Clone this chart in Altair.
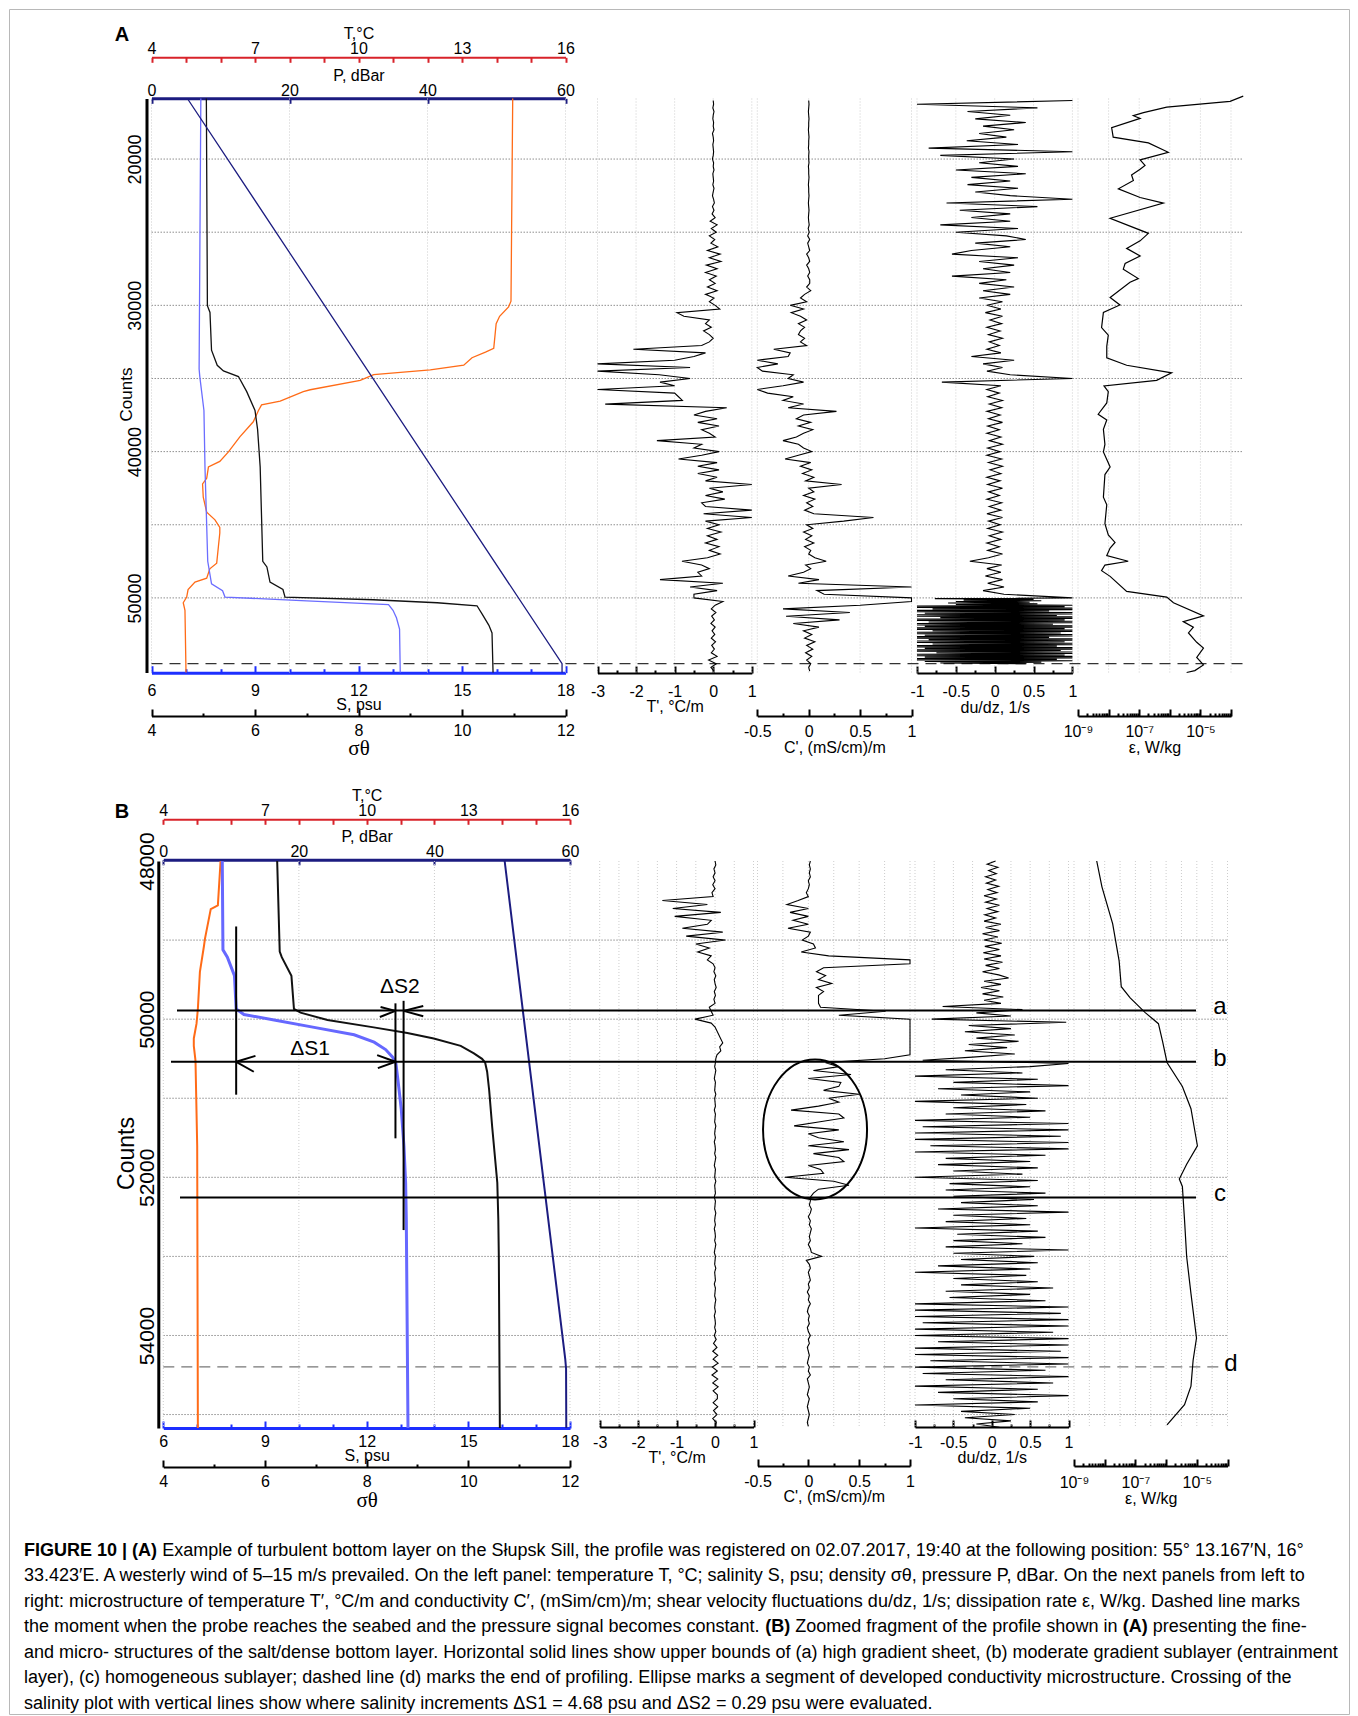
import altair as alt
import pandas as pd

# ------------------------------------------------------------------ canvas
W, H = 1340, 1705
OX, OY = 9, 9
PAD = {"left": OX, "top": OY, "right": 1358 - W - OX, "bottom": 1716 - H - OY}
FONT = "Liberation Sans"
RED, NAVY, BLUE = "#d8232a", "#1c1c80", "#1d2fff"
ORANGE, LBLUE, LBLUE_B = "#ff6b17", "#6b6dff", "#6668ff"

# ================================================================== DATA  panel A
# main profile: counts / value
TA_c = [15860, 29715, 30102, 30746, 31261, 32937, 33194, 33581, 34096, 34405, 34740, 35127, 35771, 35900,
        36544, 36802, 37189, 37962, 38992, 40023, 40667, 41054, 41827, 42213, 43115, 44146, 44662, 45177,
        45564, 46466, 47625, 48012, 48656, 48914, 49429, 49944, 50331, 50847, 55100]
TA_v = [14.47, 14.42, 14.35, 14.09, 13.99, 13.92, 13.68, 13.29, 13.05, 12.08, 10.44, 10.05, 8.6, 8.4,
        7.73, 7.19, 7.10, 6.95, 6.56, 6.23, 5.98, 5.65, 5.60, 5.48, 5.5, 5.6, 5.84, 5.98,
        5.98, 5.94, 5.89, 5.69, 5.60, 5.26, 5.06, 5.02, 4.92, 4.97, 5.0]
SA_c = [15860, 34354, 34869, 37189, 41054, 47496, 49043, 49506, 49944, 50202, 50460, 50847, 51362, 52135, 55100]
SA_v = [7.43, 7.38, 7.40, 7.52, 7.55, 7.63, 7.74, 8.06, 8.13, 10.5, 12.87, 13.0, 13.1, 13.19, 13.21]
GA_c = [15860, 30024, 30488, 33065, 34096, 34483, 34869, 35900, 37189, 38477, 41054, 47496, 47883, 48914,
        49429, 49944, 50125, 50331, 50537, 51104, 51877, 52393, 55100]
GA_v = [5.06, 5.08, 5.13, 5.16, 5.27, 5.39, 5.68, 5.84, 6.0, 6.05, 6.10, 6.15, 6.23, 6.29,
        6.54, 6.58, 8.29, 9.52, 10.29, 10.39, 10.52, 10.58, 10.6]
PA_c = [15860, 54500, 55100]
PA_v = [5.2, 59.5, 59.5]

# microstructure, sampled every 250 counts from 16000
TPA_START, TPA_STEP = 16000, 250
TPA = [0, 0.01, -0.01, 0.02, 0, -0.01, 0.01, 0, 0.02, -0.02, 0, 0.01, -0.01, 0, 0.01, 0, -0.02, 0.01, 0, 0.02,
       -0.01, 0, 0.01, -0.01, 0.02, 0, -0.02, 0.01, 0.03, -0.02, 0.02, -0.03,
       0.05, -0.08, 0.1, -0.05, 0.08, -0.1, 0.04, -0.06, 0.12, -0.15, 0.18, -0.1, 0.2, -0.18, 0.1, -0.2, 0.08, -0.1,
       0.05, -0.15, 0.1, -0.2, 0.02, -0.1, 0.05, 0.17, -0.94, -0.76, -0.1, -0.2, -0.05, -0.25, -0.1, 0.0, -0.1, -0.3, -2.07, -0.2,
       -0.5, -1.0, -3.0, -0.6, -3.0, -1.4, -0.6, -1.38, -1.0, -3.0,
       -1.0, -0.9, -0.8, -2.8, 0.35, -0.2, -0.5, 0.1, -0.4, 0.15,
       -0.3, -0.1, 0.05, -1.46, -0.3, -0.5, 0.15, -0.3, -0.9, 0.1,
       -0.4, 0.15, -0.4, 0.1, -0.2, 1.0, -0.1, 0.25, -0.2, 0.3,
       -0.3, -0.2, 1.0, -0.25, 1.0, -0.2, 0.15, -0.15, 0.2, -0.15,
       0.1, -0.2, 0.15, -0.1, 0.18, -0.15, -0.81, -0.3, -0.1, -0.4,
       -0.3, -1.38, 0.25, -0.6, 0.1, -0.5, -0.5, 0.25, 0.05, -0.05,
       0.07, -0.04, 0.03, -0.06, 0.05, -0.03, 0.04, -0.05, 0.06, -0.04,
       0.03, -0.05, 0.1, -0.12, 0.08, -0.06, 0.02]
CPA = [0, 0.003, 0, -0.003, 0, 0.003, 0, 0, -0.003, 0, 0.003, 0, 0, -0.003, 0.003, 0, 0, 0.003, -0.003, 0,
       0, 0.003, 0, -0.003, 0, 0, 0.003, 0, -0.003, 0, 0.003, 0, -0.003, 0, 0.005, -0.005, 0.005,
       -0.01, 0.01, -0.01, 0.0, 0.01, -0.02, 0.0, 0.01, -0.02, 0.0, 0.01, -0.01, 0.01,
       0.01, -0.02, 0.02, -0.04, -0.08, -0.02, -0.18, -0.05, -0.17, -0.08,
       -0.02, -0.1, -0.04, -0.08, -0.1, -0.04, -0.08, -0.02, -0.34, -0.18,
       -0.2, -0.5, -0.3, -0.5, -0.45, -0.15, -0.2, -0.05, -0.25, -0.5,
       -0.4, -0.15, -0.25, -0.05, -0.2, 0.27, -0.05, -0.12, 0.02, -0.1,
       0.04, -0.05, -0.12, -0.25, -0.1, -0.05, 0.03, -0.1, -0.23, 0.02,
       -0.08, 0.03, -0.06, 0.05, -0.03, 0.32, 0.0, 0.05, -0.05, 0.06,
       -0.02, 0.04, -0.04, 0.05, 0.63, 0.34, -0.02, 0.04, -0.05, 0.03,
       -0.03, 0.05, -0.04, 0.02, 0.0, 0.06, 0.17, -0.03, 0.02, -0.05,
       -0.2, 0.1, -0.1, 1.0, 0.08, 0.15, 1.0, 1.0, 0.5, -0.25,
       0.4, -0.22, 0.3, -0.15, 0.1, -0.05, 0.03, -0.04, 0.06, -0.02,
       0.04, -0.03, 0.03, -0.02, 0.02, 0.0, 0.01]
# du/dz: every 250 counts from 16000, then every 50 counts from 50000
DUA_HI = [1.0, -1.0, 0.55, -0.35, 0.2, -0.25, 0.4, -0.15, 0.25, -0.2, 0.15, -0.36,
          0.3, -0.85, 1.0, -0.7, 0.25, -0.2, 0.3, -0.5, 0.4, -0.3, 0.2, -0.35,
          0.3, -0.25, 0.2, 1.0, -0.62, 0.55, -0.45, 0.2,
          -0.3, 0.2, -0.7, 0.3, -0.5, 0.15, 0.4, -0.25, 0.2, -0.3, -0.55, 0.3, -0.2, 0.25, -0.15, 0.2,
          -0.55, 0.15, -0.2, 0.25, -0.15, 0.2, -0.2, 0.1,
          -0.1, 0.08, -0.12, 0.1, -0.06, 0.09, -0.1, 0.07, -0.08, 0.1, -0.07, 0.06, -0.1, 0.08, -0.3, 0.25,
          -0.15, 0.1, -0.1, 0.2, 1.0, -0.68,
          0.08, -0.1, 0.06, -0.09, 0.1, -0.07, 0.09, -0.1, 0.07, -0.08,
          0.1, -0.09, 0.06, -0.1, 0.08, -0.07, 0.1, -0.09, 0.07, -0.1,
          0.09, -0.08, 0.1, -0.06, 0.08, -0.1, 0.07, -0.09, 0.1, -0.08,
          0.06, -0.1, 0.09, -0.07, 0.08, -0.1, 0.1, -0.08, 0.07, -0.09,
          0.1, -0.07, 0.08, -0.1, 0.06, -0.09, 0.1, -0.08, -0.32, 0.09,
          -0.1, 0.08, -0.12, 0.1, -0.09, 0.12, -0.15, 0.12]
DUA_LO_START, DUA_LO_STEP = 50000, 50
DUA_LO = [1.0, -0.77, 0.5, -0.4, 0.6, -0.5, 0.45, -0.6, 0.55, -0.5,
          1.0, -1.0, 0.9, -1.0, 1.0, -0.8, 1.0, -1.0, 0.7, -1.0,
          1.0, -0.9, 1.0, -1.0, 0.8, -1.0, 1.0, -0.7, 1.0, -1.0,
          0.9, -1.0, 1.0, -0.85, 1.0, -1.0, 0.75, -1.0, 1.0, -0.9,
          1.0, -1.0, 0.9, -1.0, 1.0, -0.8, 1.0, -1.0, 0.85, -1.0,
          1.0, -0.9, 1.0, -1.0, 0.7, -1.0, 1.0, -0.85, 1.0, -1.0,
          0.9, -1.0, 1.0, -0.8, 1.0, -1.0, 0.8, -1.0, 1.0, -0.9,
          1.0, -1.0, 0.85, -1.0, 1.0, -0.75, 1.0, -1.0, 0.9, -1.0,
          1.0, -0.9, 1.0, -1.0, 0.8, -1.0, 1.0, -0.9, 0.6, -0.7,
          0.4]
# dissipation rate: counts / log10(eps)
EA_c = [15700, 16057, 16444, 16830, 17036, 17217, 17861, 18505, 18892, 19536,
        20052, 20438, 20696, 21082, 21469, 22036, 22629, 23015, 24046, 25077,
        25592, 26107, 26623, 27138, 27525, 28169, 28427, 29458, 29973, 30488,
        31519, 32034, 32807, 33581, 34096, 34611, 35127, 35513, 35900, 36673,
        37446, 37833, 38477, 39508, 40023, 41054, 41569, 43115, 43631, 44919,
        45692, 46208, 46594, 47110, 47496, 47754, 48140, 48527, 49558, 49944,
        50331, 51233, 51620, 52006, 52393, 53037, 53424, 54068, 54584, 54970, 55100]
EA_e = [-3.60, -4.03, -6.10, -6.86, -7.19, -6.97, -7.90, -7.85, -6.70, -6.05,
        -6.97, -6.81, -6.97, -7.25, -7.19, -7.68, -6.97, -6.21, -7.95, -6.70,
        -6.97, -7.41, -6.97, -7.46, -7.52, -7.03, -7.30, -7.95, -7.63, -8.17,
        -8.23, -8.01, -8.06, -8.06, -7.41, -5.94, -6.43, -8.15, -8.01, -8.06,
        -8.34, -8.06, -8.17, -8.12, -8.17, -7.95, -8.12, -8.17, -8.06, -8.12,
        -8.01, -7.79, -7.95, -8.06, -7.36, -8.12, -8.23, -7.95, -7.41, -6.10,
        -5.88, -4.90, -5.56, -5.23, -5.39, -5.12, -4.90, -5.12, -4.90, -5.18, -5.45]
DASH_A = 54500

# ================================================================== DATA  panel B
TB_c = [48000, 48561, 48608, 48982, 49075, 49403, 49870, 50057, 50244, 50338, 50525, 51601, 55170]
TB_v = [5.69, 5.61, 5.40, 5.23, 5.20, 5.08, 5.02, 4.98, 4.90, 4.90, 4.95, 5.0, 5.02]
SB_c = [48000, 49122, 49216, 49450, 49870, 49941, 50011, 50104, 50198, 50291, 50385, 50478, 50548,
        50758, 51133, 51601, 52068, 52536, 55170]
SB_v = [7.74, 7.76, 7.89, 8.10, 8.15, 8.38, 9.27, 10.45, 11.63, 12.22, 12.56, 12.76, 12.86,
        12.92, 13.02, 13.10, 13.15, 13.17, 13.22]
GB_c = [48000, 49146, 49216, 49450, 49870, 49917, 50011, 50104, 50174, 50244, 50338, 50432, 50502,
        50548, 50665, 50899, 51367, 52068, 52536, 53003, 55170]
GB_v = [6.24, 6.29, 6.33, 6.52, 6.57, 6.70, 7.23, 8.14, 8.80, 9.32, 9.85, 10.11, 10.27,
        10.33, 10.37, 10.41, 10.47, 10.57, 10.59, 10.60, 10.62]
PB_c = [48000, 54300, 54420, 55170]
PB_v = [50.36, 59.3, 59.42, 59.45]

TPB_START, TPB_STEP = 48000, 50
TPB = [0.0, 0.02, -0.03, 0.0, -0.05, 0.0, -0.06, 0.0, -0.08, -0.05,
       -1.37, -0.2, -1.1, 0.15, -1.05, -0.1, -0.2, -0.85, 0.2, -0.75,
       0.27, -0.5, -0.15, -0.45, -0.1, -0.2, -0.05,
       0.0, -0.03, 0.02, -0.02, 0.0, 0.03, -0.02, 0.01, -0.03, 0.0, -0.15,
       -0.1, -0.05, -0.52, -0.1, 0.0, 0.05, 0.1, 0.15, 0.2, 0.12, 0.15, 0.05, 0.02,
       0.01, -0.01, 0.02, 0.0, -0.02, 0.01, 0.0, -0.01, 0.02, -0.01,
       0.0, 0.01, -0.02, 0.01, 0.0, -0.01, 0.02, 0.0, -0.01, 0.01,
       -0.02, 0.0, 0.01, -0.01, 0.02, 0.0, -0.02, 0.01, 0.0, -0.01,
       0.02, -0.01, 0.0, 0.01, -0.02, 0.01, 0.0, -0.01, 0.02, 0.0,
       -0.01, 0.01, -0.02, 0.0, 0.01, -0.01, 0.02, 0.0, -0.02, 0.01,
       0.0, -0.01, 0.02, -0.01, 0.0, 0.01, -0.02, 0.01, 0.0, -0.01,
       0.02, 0.0, -0.01, 0.01, -0.02, 0.0, 0.01, -0.01, 0.02, -0.02,
       0.03, -0.04, 0.05, -0.06, 0.07, -0.05, 0.08, -0.07, 0.06, -0.08,
       0.07, -0.06, 0.08, -0.05, 0.06,
       0.06, -0.05, 0.07, -0.04, 0.05, -0.06, 0.03, 0.0]
CPB = [0.02, 0.01, 0.02, 0.01, 0.02, 0.0, 0.01, 0.0, -0.02, 0.0,
       -0.1, -0.21, 0.0, -0.18, 0.0, -0.15, 0.0, -0.2, 0.02, 0.0,
       -0.06, 0.05, 0.07, -0.07, 0.2, 1.0, 1.0, 0.15, 0.08, 0.17,
       0.1, 0.23, 0.08, 0.15, 0.1, 0.1, 0.1, 0.12, 0.76, 0.3, 1.0,
       1.0, 1.0, 1.0, 1.0, 1.0, 1.0, 1.0, 1.0, 1.0, 0.75,
       0.17, 0.3, 0.05, 0.42, 0.0, 0.32, 0.3, 0.15, 0.5, 0.2,
       0.3, 0.1, -0.17, 0.3, 0.35, 0.1, -0.14, 0.3, 0.0, 0.1,
       0.35, 0.0, 0.4, 0.05, 0.3, 0.35, 0.0, 0.12, 0.15, -0.23,
       0.25, 0.4, 0.1, 0.05, 0.02,
       0.02, 0.01, 0.03, 0.02, 0.0, 0.02, 0.01, 0.03, 0.02, 0.01,
       0.02, 0.0, 0.02, 0.03, 0.13, -0.02, 0.01, 0.02, 0.0, 0.01,
       0.02, 0.0, 0.01, -0.01, 0.01, 0.0, 0.02, 0.0, -0.01, 0.01,
       0.0, 0.01, -0.01, 0.0, 0.02, 0.0, 0.01, -0.01, 0.0, 0.01,
       0.0, -0.01, 0.01, 0.0, 0.02, -0.01, 0.0, 0.01, 0.0, -0.01,
       0.01, 0.0, -0.01, 0.0, 0.01, 0.0, -0.01, 0.0]
DUB_START, DUB_STEP = 48000, 40
DUB = [0.05, -0.06, 0.08, -0.04, 0.06, -0.08, 0.05, -0.07, 0.09, -0.05,
       0.07, -0.1, 0.06, -0.08, 0.1, -0.06, 0.08, -0.09, 0.05, -0.1,
       0.12, -0.08, 0.1, -0.12, 0.08, -0.1, 0.13, -0.09, 0.1, -0.11,
       0.12, -0.1, 0.14, -0.08, 0.1, -0.12, 0.09, 0.22, -0.1, 0.12,
       -0.14, 0.1, -0.12, 0.15, -0.1, 0.12,
       -0.64, 0.4, -0.2, 0.25, -0.78, 0.97, -0.3, 0.25, -0.35, 0.3,
       -0.2, 0.35, -0.3, 0.2, -0.35, 0.3, -0.25, -0.9, 1.0,
       0.5, -0.6, 0.4, -1.0, 0.6, -0.5, 1.0, -0.7, 0.5, -0.4,
       0.6, -1.0, 0.45, -0.5, 0.7, -0.6, 0.5, -1.0, 1.0, -0.9,
       1.0, -1.0, 0.9, -1.0, 1.0, -0.8, 1.0, -1.0, 0.7, -0.6,
       0.5, -0.7, 0.6, -0.5, 0.4, -1.0, 0.6, -0.55, 0.5, -0.6,
       0.7, -0.5, 0.55, -0.4, 0.6, -0.7, 1.0, -0.5, 0.45, -0.6,
       0.5, -1.0, 0.6, -0.45, 0.7, -0.5, 0.4, -0.6, 1.0, -0.5,
       0.55, -0.4, 0.6, -0.7, 0.5, -1.0, 0.45, -0.5, 0.6, -0.4,
       0.8, -0.6, 0.5, -0.55, 0.7, -1.0, 1.0, -1.0, 0.9, -1.0,
       1.0, -0.9, 1.0, -1.0, 0.8, -1.0, 1.0, -0.7, 1.0, -1.0,
       0.9, -1.0, 1.0, -0.8, 1.0, -1.0, 0.7, -0.9, 1.0, -0.6,
       0.8, -1.0, 0.6, -0.7, 1.0, -0.5, 0.6, -1.0, 0.5, -0.4,
       0.3, -0.35, 0.25, -0.2, 0.1]
EB_c = [48000, 48327, 48795, 49263, 49590, 49730, 49917, 50057, 50291, 50548, 50852, 51133,
        51601, 51834, 52021, 52115, 52536, 53004, 53471, 54032, 54313, 54640, 54874, 55131]
EB_e = [-8.26, -8.09, -7.74, -7.53, -7.46, -7.17, -6.68, -6.25, -6.11, -5.97, -5.47, -5.19,
        -4.98, -5.33, -5.57, -5.47, -5.40, -5.33, -5.19, -5.01, -5.12, -5.19, -5.40, -5.97]
DASH_B = 54397
LINES_ABC = [49890, 50539, 52255]           # upper bounds a, b, c (counts)
DS_VERT = [(8.15, 48828, 50955), (12.85, 49800, 51507), (13.09, 49768, 52667)]   # S, count1, count2
DS_ARMS = [(8.15, 50539, 8.72, 50464), (8.15, 50539, 8.67, 50665),
           (12.85, 50539, 12.31, 50455), (12.85, 50539, 12.33, 50619),
           (12.85, 49895, 12.41, 49847), (12.85, 49895, 12.39, 49973),
           (13.09, 49895, 13.67, 49833), (13.09, 49895, 13.67, 49964)]
DS_TEXT = [("ΔS1", 10.33, 50380), ("ΔS2", 12.98, 49593)]
ELLIPSE = (0.066, 51395)   # C', counts centre

# ================================================================== helpers
DOM_T, DOM_P, DOM_S, DOM_G = (4, 16), (0, 60), (6, 18), (4, 12)
DOM_TP, DOM_CP, DOM_DU, DOM_E = (-3, 1), (-0.5, 1), (-1, 1), (1e-9, 1e-4)
PLAIN = "replace(format(datum.value, ''), '\u2212', '-')"
layers = []


def xs(dom, a, b, typ="linear"):
    if typ == "log":
        return alt.Scale(type="log", domain=list(dom), range=[a - OX, b - OX], nice=False)
    return alt.Scale(domain=list(dom), range=[a - OX, b - OX], nice=False, zero=False)


def ys(dom, a, b):
    return alt.Scale(domain=list(dom), range=[a - OY, b - OY], nice=False, zero=False)


def AX(orient, pos, **kw):
    off = {"bottom": pos - (OY + H), "top": OY - pos, "left": OX - pos}[orient]
    d = dict(orient=orient, offset=off, grid=False, labelFlush=False, labelOverlap=False)
    d.update(kw)
    return alt.Axis(**d)


def ghost(ch, dom, scale, axis):
    df = pd.DataFrame({"v": list(dom)})
    enc = alt.X("v:Q", scale=scale, axis=axis) if ch == "x" else alt.Y("v:Q", scale=scale, axis=axis)
    return alt.Chart(df).mark_point(opacity=0).encode(**{ch: enc})


def x_axis(dom, scale, pos, values, title, color="black", dw=2, lab_orient="bottom", lpad=8,
           title_y=28, title_font=FONT, title_size=16, major=None, minor=None, tick_orient="top",
           major_len=7, minor_len=3, label_expr=PLAIN, lsize=16):
    kw = dict(values=values, ticks=False, tickSize=0, domainColor=color, domainWidth=dw,
              labelPadding=lpad, labelFontSize=lsize, title=title, titleFont=title_font,
              titleFontSize=title_size, titleBaseline="middle", titleY=title_y, labelExpr=label_expr)
    layers.append(ghost("x", dom, scale, AX(lab_orient, pos, **kw)))
    for vals, ln in ((major, major_len), (minor, minor_len)):
        if vals:
            layers.append(ghost("x", dom, scale, AX(tick_orient, pos, values=vals, labels=False, domain=False,
                                                    ticks=True, tickSize=ln, tickColor=color, tickWidth=2,
                                                    title=None)))


def curve(c, v, sx_, sy_, color, width):
    df = pd.DataFrame({"c": c, "v": v})
    return alt.Chart(df).mark_line(color=color, strokeWidth=width).encode(
        x=alt.X("v:Q", scale=sx_, axis=None), y=alt.Y("c:Q", scale=sy_, axis=None), order="c:Q")


def vgrid(vals, sx_, ydom, sy_, color="#cdcdcd"):
    df = pd.DataFrame({"g": vals, "y1": [ydom[0]] * len(vals), "y2": [ydom[1]] * len(vals)})
    return alt.Chart(df).mark_rule(color=color, strokeDash=[1, 2], strokeWidth=1).encode(
        x=alt.X("g:Q", scale=sx_, axis=None), y=alt.Y("y1:Q", scale=sy_, axis=None), y2="y2:Q")


def hline(counts, sy_, x1, x2, color, dash=None, width=1.0):
    df = pd.DataFrame({"c": counts})
    mk = dict(color=color, strokeWidth=width)
    if dash:
        mk["strokeDash"] = dash
    return alt.Chart(df).mark_rule(**mk).encode(
        y=alt.Y("c:Q", scale=sy_, axis=None), x=alt.value(x1 - OX), x2=alt.value(x2 - OX))


def label(txt, x, y, size=16, weight="normal", font=FONT, align="left", baseline="middle"):
    return alt.Chart(pd.DataFrame({"t": [txt]})).mark_text(
        fontSize=size, fontWeight=weight, font=font, align=align, baseline=baseline, color="black"
    ).encode(text="t:N", x=alt.value(x - OX), y=alt.value(y - OY))


def grid_counts(start, step, n):
    return [start + step * i for i in range(n)]


# ================================================================== panel builder
def build(G, D):
    yS = ys(D["ydom"], *G["y"])
    sT, sP = xs(DOM_T, *G["main"]), xs(DOM_P, *G["main"])
    sS, sG = xs(DOM_S, *G["main"]), xs(DOM_G, *G["main"])
    sTp, sCp = xs(DOM_TP, *G["tp"]), xs(DOM_CP, *G["cp"])
    sDu, sE = xs(DOM_DU, *G["du"]), xs(DOM_E, *G["eps"], typ="log")

    # grids
    layers.append(hline(D["hgrid"], yS, G["main"][0], G["grid_end"], "#8f8f8f", dash=[1.5, 1.5]))
    layers.append(vgrid(D["vg_main"], sP, D["ydom"], yS))
    layers.append(vgrid(D["vg_tp"], sTp, D["ydom"], yS))
    layers.append(vgrid(D["vg_cp"], sCp, D["ydom"], yS))
    layers.append(vgrid(D["vg_du"], sDu, D["ydom"], yS))
    layers.append(vgrid(D["vg_eps"], sE, D["ydom"], yS))
    layers.append(hline([D["dash"]], yS, G["main"][0], G["dash_end"], G["dash_col"], dash=[11, 7], width=1.3))

    # main profiles
    w = G["lw"]
    layers.append(curve(D["T"][0], D["T"][1], sT, yS, ORANGE, w))
    layers.append(curve(D["S"][0], D["S"][1], sS, yS, G["s_col"], G["s_w"]))
    layers.append(curve(D["G"][0], D["G"][1], sG, yS, "#111111", w))
    layers.append(curve(D["P"][0], D["P"][1], sP, yS, NAVY, w))
    # microstructure
    layers.append(curve(D["Tp"][0], D["Tp"][1], sTp, yS, "black", 1.1))
    layers.append(curve(D["Cp"][0], D["Cp"][1], sCp, yS, "black", 1.1))
    layers.append(curve(D["Du"][0], D["Du"][1], sDu, yS, "black", 1.1))
    layers.append(curve(D["E"][0], [10 ** e for e in D["E"][1]], sE, yS, "black", 1.2))

    # axes
    x_axis(DOM_T, sT, G["t_top"], [4, 7, 10, 13, 16], "T,°C", RED, 2, "top", 1, -24,
           major=list(range(4, 17)), tick_orient="bottom", major_len=5)
    x_axis(DOM_P, sP, G["p_top"], [0, 20, 40, 60], "P, dBar", NAVY, 3, "top", 0, -23,
           major=[0, 20, 40, 60], tick_orient="bottom", major_len=5)
    x_axis(DOM_S, sS, G["s_bot"], [6, 9, 12, 15, 18], "S, psu", BLUE, 3, "bottom", G["s_pad"], G["s_ty"],
           major=[6, 9, 12, 15, 18], minor=[7, 8, 10, 11, 13, 14, 16, 17], major_len=7, minor_len=4)
    x_axis(DOM_G, sG, G["g_bot"], [4, 6, 8, 10, 12], "σθ", "black", 2, "bottom", G["g_pad"], G["g_ty"],
           title_font="Liberation Serif", title_size=21, major=[4, 6, 8, 10, 12], minor=[5, 7, 9, 11])
    x_axis(DOM_TP, sTp, G["tp_bot"], [-3, -2, -1, 0, 1], "T', °C/m", "black", 2, "bottom", G["tp_pad"],
           G["tp_ty"], major=[-3, -2, -1, 0, 1], minor=[-2.5, -1.5, -0.5, 0.5])
    x_axis(DOM_CP, sCp, G["cp_bot"], [-0.5, 0, 0.5, 1], "C', (mS/cm)/m", "black", 2, "bottom", G["cp_pad"],
           G["cp_ty"], major=[-0.5, 0, 0.5, 1], minor=[-0.25, 0.25, 0.75])
    x_axis(DOM_DU, sDu, G["du_bot"], [-1, -0.5, 0, 0.5, 1], "du/dz, 1/s", "black", 2, "bottom", G["du_pad"],
           G["du_ty"], major=[-1, -0.5, 0, 0.5, 1], minor=[-0.75, -0.25, 0.25, 0.75])
    x_axis(DOM_E, sE, G["eps_bot"], [1e-9, 1e-7, 1e-5], "ε, W/kg", "black", 2, "bottom", G["eps_pad"],
           G["eps_ty"], major=[10.0 ** k for k in range(-9, -3)],
           minor=[m * 10.0 ** k for k in range(-9, -4) for m in range(2, 10)],
           label_expr="datum.value < 3e-9 ? '10⁻⁹' : (datum.value < 3e-7 ? '10⁻⁷' : '10⁻⁵')")
    # counts axis
    layers.append(ghost("y", D["ydom"], yS, AX(
        "left", G["cnt_x"], values=D["cnt_vals"], format="d", ticks=False, tickSize=0, domainColor="black",
        domainWidth=3, labelAngle=270, labelAlign="center", labelBaseline="bottom", labelPadding=G["cnt_pad"],
        labelFontSize=G["cnt_fs"], title="Counts", titleFontSize=G["cnt_tfs"], titleAngle=270,
        titleX=G["cnt_tx"] - G["cnt_x"], titleY=G["cnt_ty"] - OY, titleAlign="center", titleBaseline="middle")))
    return yS, sS, sCp


GEO_A = dict(y=(98.5, 672.5), main=(151.5, 565.5), tp=(597.5, 751.8), cp=(757.3, 911.5), du=(917, 1072.4),
             eps=(1078, 1231), t_top=57.3, p_top=98.3, s_bot=672.7, g_bot=716, tp_bot=673, cp_bot=716,
             du_bot=673, eps_bot=716, s_pad=10, s_ty=32, g_pad=6, g_ty=32, tp_pad=10, tp_ty=33,
             cp_pad=7, cp_ty=31, du_pad=10, du_ty=34, eps_pad=7, eps_ty=31,
             cnt_x=146.5, cnt_pad=2, cnt_fs=18, cnt_tfs=17, cnt_tx=126, cnt_ty=394,
             grid_end=1243, dash_end=1244, dash_col="#333333", lw=1.3, s_col=LBLUE, s_w=1.3)
DATA_A = dict(ydom=(15860, 55100), hgrid=[20000, 25000, 30000, 35000, 40000, 45000, 50000],
              vg_main=[0, 20, 40, 60], vg_tp=[-3, -2, -1, 0, 1], vg_cp=[-0.5, 0, 0.5, 1],
              vg_du=[-1, -0.5, 0, 0.5, 1], vg_eps=[10.0 ** k for k in range(-9, -3)], dash=DASH_A,
              cnt_vals=[20000, 30000, 40000, 50000],
              T=(TA_c, TA_v), S=(SA_c, SA_v), G=(GA_c, GA_v), P=(PA_c, PA_v),
              Tp=(grid_counts(TPA_START, TPA_STEP, len(TPA)), TPA),
              Cp=(grid_counts(TPA_START, TPA_STEP, len(CPA)), CPA),
              Du=(grid_counts(TPA_START, TPA_STEP, len(DUA_HI)) + grid_counts(DUA_LO_START, DUA_LO_STEP, len(DUA_LO)),
                  DUA_HI + DUA_LO),
              E=(EA_c, EA_e))
GEO_B = dict(y=(861, 1428), main=(163.3, 570), tp=(599.7, 753.5), cp=(757.5, 910), du=(915, 1068.5),
             eps=(1074, 1227.5), t_top=819.3, p_top=859.8, s_bot=1428, g_bot=1467, tp_bot=1427, cp_bot=1466,
             du_bot=1427, eps_bot=1466, s_pad=5, s_ty=27.5, g_pad=6, g_ty=33, tp_pad=7, tp_ty=30,
             cp_pad=7, cp_ty=30, du_pad=7, du_ty=30, eps_pad=8, eps_ty=32,
             cnt_x=158.3, cnt_pad=1, cnt_fs=21, cnt_tfs=23, cnt_tx=126, cnt_ty=1153,
             grid_end=1228, dash_end=1222, dash_col="#777777", lw=2.0, s_col=LBLUE_B, s_w=3.0)
DATA_B = dict(ydom=(48000, 55170), hgrid=[49000, 50000, 51000, 52000, 53000, 54000, 55000],
              vg_main=[0, 20, 40, 60], vg_tp=[-3, -2.5, -2, -1.5, -1, -0.5, 0, 0.5, 1],
              vg_cp=[-0.5, -0.25, 0, 0.25, 0.5, 0.75, 1], vg_du=[-1, -0.75, -0.5, -0.25, 0, 0.25, 0.5, 0.75, 1],
              vg_eps=[10.0 ** (-9 + 0.5 * k) for k in range(11)], dash=DASH_B,
              cnt_vals=[48000, 50000, 52000, 54000],
              T=(TB_c, TB_v), S=(SB_c, SB_v), G=(GB_c, GB_v), P=(PB_c, PB_v),
              Tp=(grid_counts(TPB_START, TPB_STEP, len(TPB)), TPB),
              Cp=(grid_counts(TPB_START, TPB_STEP, len(CPB)), CPB),
              Du=(grid_counts(DUB_START, DUB_STEP, len(DUB)), DUB),
              E=(EB_c, EB_e))

build(GEO_A, DATA_A)
yB, sSB, sCpB = build(GEO_B, DATA_B)

# ---------------- panel B annotations
layers.append(hline([LINES_ABC[0]], yB, 177, 1196, "black", width=2))
layers.append(hline([LINES_ABC[1]], yB, 171, 1196, "black", width=2))
layers.append(hline([LINES_ABC[2]], yB, 180, 1196, "black", width=2))
dsv = pd.DataFrame(DS_VERT, columns=["s", "c1", "c2"])
layers.append(alt.Chart(dsv).mark_rule(color="black", strokeWidth=2).encode(
    x=alt.X("s:Q", scale=sSB, axis=None), y=alt.Y("c1:Q", scale=yB, axis=None), y2="c2:Q"))
dsa = pd.DataFrame(DS_ARMS, columns=["s1", "c1", "s2", "c2"])
layers.append(alt.Chart(dsa).mark_rule(color="black", strokeWidth=2).encode(
    x=alt.X("s1:Q", scale=sSB, axis=None), x2="s2:Q", y=alt.Y("c1:Q", scale=yB, axis=None), y2="c2:Q"))
dst = pd.DataFrame(DS_TEXT, columns=["t", "s", "c"])
layers.append(alt.Chart(dst).mark_text(fontSize=21, font=FONT, color="black").encode(
    x=alt.X("s:Q", scale=sSB, axis=None), y=alt.Y("c:Q", scale=yB, axis=None), text="t:N"))
ell = pd.DataFrame({"v": [ELLIPSE[0]], "c": [ELLIPSE[1]]})
ELL_PATH = ("M -0.743 0 C -0.743 -0.552 -0.410 -1 0 -1 C 0.410 -1 0.743 -0.552 0.743 0 "
            "C 0.743 0.552 0.410 1 0 1 C -0.410 1 -0.743 0.552 -0.743 0 Z")
layers.append(alt.Chart(ell).mark_point(shape=ELL_PATH, size=19600, filled=False, stroke="black",
                                        strokeWidth=2, opacity=1).encode(
    x=alt.X("v:Q", scale=sCpB, axis=None), y=alt.Y("c:Q", scale=yB, axis=None)))
abc = pd.DataFrame({"c": LINES_ABC, "t": ["a", "b", "c"]})
layers.append(alt.Chart(abc).mark_text(fontSize=24, font=FONT, align="center", baseline="middle", dy=-3).encode(
    y=alt.Y("c:Q", scale=yB, axis=None), x=alt.value(1220 - OX), text="t:N"))
dd = pd.DataFrame({"c": [DASH_B], "t": ["d"]})
layers.append(alt.Chart(dd).mark_text(fontSize=24, font=FONT, align="center", baseline="middle", dy=-3).encode(
    y=alt.Y("c:Q", scale=yB, axis=None), x=alt.value(1231 - OX), text="t:N"))

# panel letters
layers.append(label("A", 122, 35, size=20, weight="bold", align="center"))
layers.append(label("B", 122, 812, size=20, weight="bold", align="center"))

# ---------------- caption
AR = {}
AR.update(dict(zip(" !\"#$%&'()*+,-./", [278, 278, 355, 556, 556, 889, 667, 191, 333, 333, 389, 584, 278, 333, 278, 278])))
AR.update({d: 556 for d in "0123456789"})
AR.update(dict(zip(":;<=>?@", [278, 278, 584, 584, 584, 556, 1015])))
AR.update(dict(zip("ABCDEFGHIJKLMNOPQRSTUVWXYZ",
                   [667, 667, 722, 722, 667, 611, 778, 722, 278, 500, 667, 556, 833, 722, 778, 667, 778, 722, 667,
                    611, 722, 667, 944, 667, 667, 611])))
AR.update(dict(zip("abcdefghijklmnopqrstuvwxyz",
                   [556, 556, 500, 556, 556, 278, 556, 556, 222, 222, 500, 222, 833, 556, 556, 556, 556, 333, 500,
                    278, 556, 500, 722, 500, 500, 500])))
AR.update({"[": 278, "]": 278, "|": 260, "°": 400, "′": 191, "–": 556, "ł": 222, "σ": 570, "θ": 556,
           "ε": 445, "Δ": 668})
ARB = dict(AR)
ARB.update({"A": 722, "B": 722, "R": 722, "U": 722, "|": 280})


def tw(s, bold=False):
    t = ARB if bold else AR
    return sum(t.get(ch, 556) for ch in s) / 1000.0


CAPTION = [
    [("FIGURE 10 | (A)", True), (" Example of turbulent bottom layer on the Słupsk Sill, the profile was registered on "
                                 "02.07.2017, 19:40 at the following position: 55° 13.167′N, 16°", False)],
    [("33.423′E. A westerly wind of 5–15 m/s prevailed. On the left panel: temperature T, °C; salinity S, psu; "
      "density σθ, pressure P, dBar. On the next panels from left to", False)],
    [("right: microstructure of temperature T′, °C/m and conductivity C′, (mSim/cm)/m; shear velocity fluctuations "
      "du/dz, 1/s; dissipation rate ε, W/kg. Dashed line marks", False)],
    [("the moment when the probe reaches the seabed and the pressure signal becomes constant. ", False), ("(B)", True),
     (" Zoomed fragment of the profile shown in ", False), ("(A)", True), (" presenting the fine-", False)],
    [("and micro- structures of the salt/dense bottom layer. Horizontal solid lines show upper bounds of (a) high "
      "gradient sheet, (b) moderate gradient sublayer (entrainment", False)],
    [("layer), (c) homogeneous sublayer; dashed line (d) marks the end of profiling. Ellipse marks a segment of "
      "developed conductivity microstructure. Crossing of the", False)],
    [("salinity plot with vertical lines show where salinity increments ΔS1 = 4.68 psu and ΔS2 = 0.29 psu were "
      "evaluated.", False)],
]
CAP_X0, CAP_Y0, CAP_DY = 24.0, 1550.6, 25.55
CAP_END = [1337, 1324, 1322, 1320, 1340, 1293, 944]     # right end of each caption line in the figure
FS = min((CAP_END[i] - CAP_X0) / sum(tw(t, b) for t, b in segs) for i, segs in enumerate(CAPTION))
for i, segs in enumerate(CAPTION):
    x = CAP_X0
    y = CAP_Y0 + CAP_DY * i
    for txt, bold in segs:
        lead = len(txt) - len(txt.lstrip(" "))
        layers.append(label(txt.strip(), x + FS * tw(" " * lead), y, size=FS, weight="bold" if bold else "normal"))
        x += FS * tw(txt, bold)

chart = alt.layer(*layers).resolve_scale(x="independent", y="independent").properties(
    width=W, height=H, autosize=alt.AutoSizeParams(type="none"), padding=PAD, background="white"
).configure_view(stroke="#b8b8b8", strokeWidth=1).configure_axis(
    labelFont=FONT, titleFont=FONT, titleFontWeight="normal", labelColor="black", titleColor="black")

chart.save("out.html", embed_options={"renderer": "svg", "actions": False})
